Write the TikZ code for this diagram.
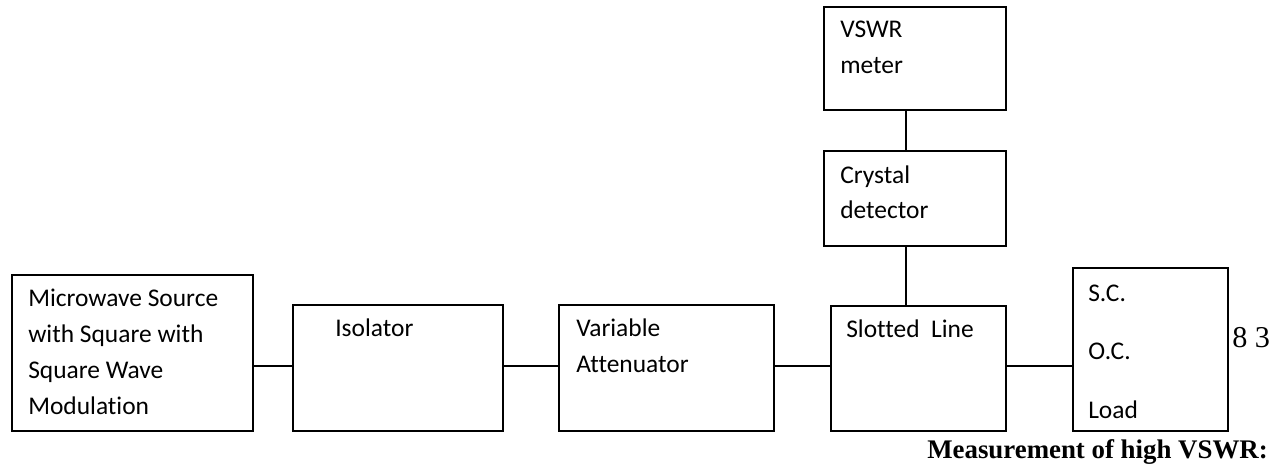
\documentclass[tikz,border=0pt]{standalone}
\usepackage{fontspec}
\setmainfont{Carlito}[Ligatures=CommonOff]
\newfontfamily\capfont{Liberation Serif}
\usetikzlibrary{positioning}

\newlength\px
\setlength\px{0.025cm}

\tikzset{
  block/.style={draw=black, line width=1.1pt, inner sep=0pt, anchor=north west},
  lbl/.style={anchor=base west, inner sep=0pt, align=left,
    font=\fontsize{18.1}{25.6}\selectfont},
  wire/.style={draw=black, line width=0.85pt},
}

\begin{document}
\begin{tikzpicture}[x=0.025cm, y=-0.025cm]
  \useasboundingbox (0,0) rectangle (1280,465);

  % ── Main chain ──
  \node[block, minimum width=241\px, minimum height=156\px] (src)  at (11,274)  {};
  \node[block, minimum width=210\px, minimum height=126\px] (iso)  at (292,304) {};
  \node[block, minimum width=215\px, minimum height=126\px] (att)  at (558,304) {};
  \node[block, minimum width=175\px, minimum height=125\px] (slot) at (830,305) {};
  \node[block, minimum width=155\px, minimum height=163\px] (load) at (1072,267) {};

  % ── Detector branch ──
  \node[block, minimum width=182\px, minimum height=95\px]  (det)   at (823,150) {};
  \node[block, minimum width=182\px, minimum height=103\px] (meter) at (823,6)   {};

  % labels (placed at the baseline of their last line)
  \node[lbl] (srctxt) at (28,414)
    {Microwave Source\\with Square with\\Square Wave\\Modulation};
  \node[lbl] (isotxt)   at (335,336)  {Isolator};
  \node[lbl] (atttxt)   at (576,372)  {Variable\\Attenuator};
  \node[lbl] (slottxt)  at (846,337)  {Slotted\ \ Line};
  \node[lbl] (dettxt)   at (840,219)  {Crystal\\detector};
  \node[lbl] (metertxt) at (840,74)   {VSWR\\meter};
  \node[lbl, font=\fontsize{18.1}{41.3}\selectfont] (loadtxt) at (1088,418)
    {S.C.\\O.C.\\Load};

  \node[anchor=base west, inner sep=0pt, font=\capfont\fontsize{21.5}{24}\selectfont]
    (page) at (1232,347) {8 3};
  \node[anchor=base east, inner sep=0pt, font=\capfont\bfseries\fontsize{19.1}{22}\selectfont]
    (caption) at (1268,458) {Measurement of high VSWR:};

  % ── Connectors ──
  \coordinate (bus) at (0,366);
  \coordinate (tap) at (906,0);
  \draw[wire] (src.east |- bus)  -- (iso.west |- bus);
  \draw[wire] (iso.east |- bus)  -- (att.west |- bus);
  \draw[wire] (att.east |- bus)  -- (slot.west |- bus);
  \draw[wire] (slot.east |- bus) -- (load.west |- bus);
  \draw[wire] (meter.south -| tap) -- (det.north -| tap);
  \draw[wire] (det.south -| tap)   -- (slot.north -| tap);
\end{tikzpicture}
\end{document}
